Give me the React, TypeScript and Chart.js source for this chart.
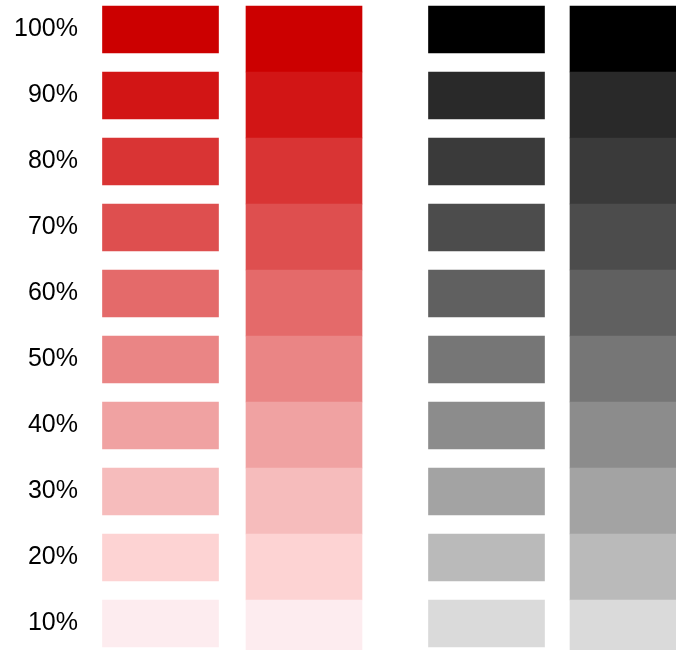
import React, { useEffect, useRef } from "react";
import { Chart, registerables } from "chart.js";

Chart.register(...registerables);

// Opacity levels (rows, top to bottom)
const LEVELS = [100, 90, 80, 70, 60, 50, 40, 30, 20, 10];
const TICK_LABELS = ["100%", "90%", "80%", "70%", "60%", "50%", "40%", "30%", "20%", "10%"];

// Shades for each level
const RED_SHADES = [
  "#cc0000", "#d21515", "#d93434", "#de4f4f", "#e46a6a",
  "#ea8585", "#f0a2a2", "#f6bcbc", "#fdd3d3", "#fdecef",
];
const GRAY_SHADES = [
  "#000000", "#292929", "#3a3a3a", "#4c4c4c", "#606060",
  "#767676", "#8c8c8c", "#a3a3a3", "#bababa", "#dadada",
];

// Columns: colour family and whether cells are separated by gaps
const COLUMNS = [
  { name: "red, spaced", shades: RED_SHADES, gapped: true },
  { name: "red, joined", shades: RED_SHADES, gapped: false },
  { name: "black, spaced", shades: GRAY_SHADES, gapped: true },
  { name: "black, joined", shades: GRAY_SHADES, gapped: false },
];

// Layout (pixels along x inside the plot area, row fraction along y)
const COLUMN_CENTER = [70.5, 214, 396.5, 538];
const CELL_WIDTH = 116;
const GAPPED_CELL = 47 / 66;

export default function App() {
  const ref = useRef<HTMLCanvasElement | null>(null);

  useEffect(() => {
    if (!ref.current) return;
    const datasets = COLUMNS.map((col, c) => ({
      label: col.name,
      data: LEVELS.map((_, k) => ({
        x: COLUMN_CENTER[c],
        y: [k, k + (col.gapped ? GAPPED_CELL : 1)],
      })),
      backgroundColor: LEVELS.map((_, k) => col.shades[k]),
      borderWidth: 0,
      barThickness: CELL_WIDTH,
      grouped: false,
    }));

    const chart = new Chart(ref.current, {
      type: "bar",
      data: { datasets: datasets as any },
      options: {
        animation: false,
        responsive: true,
        maintainAspectRatio: false,
        layout: { padding: 0 },
        plugins: { legend: { display: false }, tooltip: { enabled: false } },
        scales: {
          x: {
            type: "linear",
            display: false,
            offset: false,
            min: 0,
            max: 586,
          },
          y: {
            type: "linear",
            reverse: true,
            min: -6 / 66,
            max: -6 / 66 + 650 / 66,
            grid: { display: false, drawTicks: false },
            border: { display: false },
            afterFit: (scale: any) => {
              scale.width = 90;
              scale.paddingTop = 0;
              scale.paddingBottom = 0;
            },
            afterBuildTicks: (scale: any) => {
              scale.ticks = LEVELS.map((_, i) => ({ value: i + GAPPED_CELL / 2 }));
            },
            ticks: {
              padding: 12,
              color: "#000000",
              font: { family: "'Liberation Sans', Arial, sans-serif", size: 25 },
              callback: (_v: any, i: number) => TICK_LABELS[i],
            },
          },
        },
      },
    });
    return () => chart.destroy();
  }, []);

  return (
    <div style={{ position: "fixed", left: 0, top: 0, width: 676, height: 650, background: "#ffffff" }}>
      <canvas ref={ref} />
    </div>
  );
}
